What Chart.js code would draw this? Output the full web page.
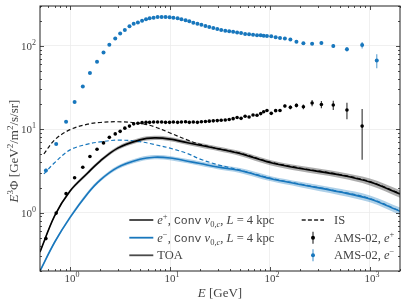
<!DOCTYPE html>
<html>
<head>
<meta charset="utf-8">
<script src="https://cdn.jsdelivr.net/npm/chart.js@4.4.0/dist/chart.umd.min.js"></script>
<style>
  html, body { margin: 0; padding: 0; background: #fff; }
</style>
</head>
<body>
<canvas id="chart" width="407" height="305"></canvas>
<script>
// model curves (energy in GeV, E^3 flux)
const modelE = [0.5, 0.7, 1, 1.5, 2, 3, 5, 7, 10, 15, 20, 30, 50, 100, 200, 500, 1000, 2000];
const posTOA   = [0.338, 0.916, 1.82, 2.99, 4.16, 5.94, 7.46, 7.87, 7.62, 6.88, 6.42, 5.83, 5.11, 3.99, 3.38, 2.83, 2.33, 1.68];
const posTOAlo = [0.325, 0.881, 1.74, 2.85, 3.96, 5.63, 7.04, 7.42, 7.19, 6.49, 6.03, 5.47, 4.78, 3.71, 3.13, 2.60, 2.12, 1.51];
const posTOAhi = [0.352, 0.953, 1.90, 3.14, 4.37, 6.27, 7.91, 8.34, 8.08, 7.29, 6.84, 6.21, 5.47, 4.29, 3.65, 3.08, 2.56, 1.86];
const eleTOA   = [0.2, 0.442, 0.879, 1.70, 2.46, 3.49, 4.36, 4.62, 4.52, 4.14, 3.88, 3.52, 3.20, 2.57, 2.18, 1.77, 1.46, 1.04];
const eleTOAlo = [0.192, 0.425, 0.841, 1.62, 2.34, 3.31, 4.11, 4.36, 4.26, 3.91, 3.64, 3.31, 2.99, 2.39, 2.02, 1.62, 1.33, 0.94];
const eleTOAhi = [0.208, 0.460, 0.919, 1.79, 2.58, 3.68, 4.62, 4.90, 4.79, 4.39, 4.13, 3.75, 3.42, 2.76, 2.35, 1.93, 1.61, 1.15];

// interstellar (dashed)
const isE   = [0.547, 0.7, 1, 1.5, 2, 3, 5, 7, 10, 15, 20, 30, 50, 100, 200, 500, 1000, 2000];
const posIS = [5.07, 7.45, 9.89, 11.5, 12.05, 12.3, 11.8, 10.7, 9.03, 7.41, 6.6, 5.87, 5.18, 4.05, 3.43, 2.87, 2.36, 1.70];
const eleIS = [2.92, 3.97, 5.66, 6.64, 7.05, 7.41, 7.1, 6.55, 5.93, 5.11, 4.39, 3.76, 3.24, 2.6, 2.2, 1.79, 1.48, 1.05];

// AMS-02 data
const amsE = [0.573, 0.726, 0.912, 1.11, 1.34, 1.58, 1.86, 2.16, 2.47, 2.83,
  3.17, 3.53, 3.93, 4.33, 4.77, 5.25, 5.75, 6.25, 6.85, 7.51,
  8.24, 9.02, 9.89, 10.8, 11.9, 13.0, 14.3, 15.6, 17.1, 18.8,
  20.6, 22.6, 24.7, 27.1, 29.7, 32.5, 35.7, 39.1, 42.8, 46.9,
  51.4, 56.4, 61.8, 67.7, 74.2, 80.8, 86.5, 93.3, 103, 114,
  126, 141, 160, 184, 216, 264, 327, 430, 589, 836, 1171];
const amsPos = [0.489, 0.989, 1.69, 2.62, 3.51, 4.71, 5.75, 6.86, 8.0, 8.79,
  9.44, 10.3, 10.9, 11.6, 11.8, 12.0, 12.1, 12.1, 12.2, 12.2,
  12.2, 12.1, 12.1, 12.2, 12.1, 12.2, 12.3, 12.1, 12.2, 12.1,
  12.3, 12.4, 12.5, 12.6, 12.7, 12.8, 12.9, 13.1, 13.4, 13.8,
  13.5, 14.3, 14.0, 14.8, 14.7, 15.4, 16.2, 16.8, 15.5, 16.7,
  16.8, 19.0, 18.3, 19.3, 18.6, 20.6, 19.8, 19.5, 17.0, 10.9];
const amsPosErr = [0, 0, 0, 0, 0, 0, 0, 0, 0, 0,
  0, 0, 0, 0, 0, 0, 0, 0, 0, 0,
  0, 0, 0, 0, 0, 0, 0, 0, 0, 0,
  0, 0, 0, 0, 0, 0, 0, 0, 0, 0,
  0, 0, 0, 0, 0.3, 0.3, 0.4, 0.4, 0.4, 0.5,
  0.6, 0.8, 0.9, 1.0, 1.2, 1.8, 2.0, 2.5, 3.8, 6.6];
const amsEle = [3.2, 6.67, 12.3, 21.2, 32.6, 47.1, 64.2, 83, 103, 122,
  140, 155, 171, 184, 190, 200, 208, 214, 217, 221,
  221, 221, 220, 217, 214, 208, 202, 197, 189, 184,
  179, 173, 168, 164, 159, 155, 152, 149, 147, 144,
  142, 139, 138, 136, 134, 134, 132, 131, 130, 127,
  124, 122, 119, 112, 107, 106, 108, 99.7, 91.1, 102, 66.5];
const amsEleErr = [0.15, 0, 0, 0, 0, 0, 0, 0, 0, 0,
  0, 0, 0, 0, 0, 0, 0, 0, 0, 0,
  0, 0, 0, 0, 0, 0, 0, 0, 0, 0,
  0, 0, 0, 0, 0, 0, 0, 0, 0, 0,
  0, 0, 0, 0, 0, 0, 0, 0, 0, 0,
  3, 3, 3.5, 3.5, 3.5, 4, 4.5, 5, 5.5, 9.3, 12.6];

const xMajor = [1, 10, 100, 1000];
const yMajor = [1, 10, 100];

const BLUE = '#1877bd';
const SERIF = '"Liberation Serif", "DejaVu Serif", serif';
const MONO = '"Liberation Mono", "DejaVu Sans Mono", monospace';
const fn = (s) => `${s}px ${SERIF}`;
const it = (s) => `italic ${s}px ${SERIF}`;
const mono = (s) => `${s}px ${MONO}`;

const pts = (xs, ys) => ys.map((v, i) => ({ x: xs[i], y: v }));

function rich(ctx, x, y, parts, align) {
    let w = 0;
    parts.forEach(p => { ctx.font = p[1]; w += ctx.measureText(p[0]).width; });
    let cx = align === 'center' ? x - w / 2 : align === 'right' ? x - w : x;
    parts.forEach(p => {
        ctx.font = p[1];
        ctx.fillText(p[0], cx, y + (p[2] || 0));
        cx += ctx.measureText(p[0]).width;
    });
}

// error bars drawn under the points
const errorBars = {
    id: 'errorBars',
    beforeDatasetDraw(chart, args) {
        const ds = chart.data.datasets[args.index];
        if (!ds.errors) return;
        const { ctx, scales: { x, y } } = chart;
        ctx.save();
        ctx.strokeStyle = ds.errColor;
        ctx.lineWidth = 1.2;
        ds.data.forEach((p, i) => {
            const e = ds.errors[i];
            if (!e) return;
            const px = x.getPixelForValue(p.x);
            ctx.beginPath();
            ctx.moveTo(px, y.getPixelForValue(p.y + e));
            ctx.lineTo(px, y.getPixelForValue(Math.max(p.y - e, 0.21)));
            ctx.stroke();
        });
        ctx.restore();
    }
};

// frame, inward ticks, tick labels, titles, legend
const decor = {
    id: 'decor',
    afterDraw(chart) {
        const { ctx, chartArea: a, scales: { x, y } } = chart;
        ctx.save();
        ctx.strokeStyle = '#222';
        ctx.lineWidth = 1;
        ctx.strokeRect(a.left, a.top, a.right - a.left, a.bottom - a.top);

        ctx.lineWidth = 0.8;
        ctx.beginPath();
        for (let k = -1; k <= 3; k++) {
            for (let m = 1; m <= 9; m++) {
                const v = m * Math.pow(10, k);
                if (v < 0.5 || v > 2000) continue;
                const len = m === 1 ? 4 : 2;
                const px = Math.round(x.getPixelForValue(v)) + 0.5;
                ctx.moveTo(px, a.bottom); ctx.lineTo(px, a.bottom - len);
                ctx.moveTo(px, a.top); ctx.lineTo(px, a.top + len);
            }
        }
        for (let k = -1; k <= 2; k++) {
            for (let m = 1; m <= 9; m++) {
                const v = m * Math.pow(10, k);
                if (v < 0.2 || v > 300) continue;
                const len = m === 1 ? 4 : 2;
                const py = Math.round(y.getPixelForValue(v)) + 0.5;
                ctx.moveTo(a.left, py); ctx.lineTo(a.left + len, py);
                ctx.moveTo(a.right, py); ctx.lineTo(a.right - len, py);
            }
        }
        ctx.stroke();

        ctx.fillStyle = '#444';
        ctx.textBaseline = 'alphabetic';
        ctx.textAlign = 'left';
        xMajor.forEach(v => {
            const px = x.getPixelForValue(v);
            rich(ctx, px + 2, 282, [['10', fn(11)], [String(Math.round(Math.log10(v))), fn(8), -5]], 'center');
        });
        yMajor.forEach(v => {
            const py = y.getPixelForValue(v);
            rich(ctx, 36, py + 4, [['10', fn(11)], [String(Math.round(Math.log10(v))), fn(8), -5]], 'right');
        });

        // axis titles
        rich(ctx, 220, 297, [['E', it(13)], [' [GeV]', fn(13)]], 'center');
        ctx.save();
        ctx.translate(13, 151);
        ctx.rotate(-Math.PI / 2);
        rich(ctx, 0, 4.5, [['E', it(13)], ['3', fn(9), -5], ['Φ', fn(13)], [' [GeV', fn(13)], ['2', fn(9), -5],
            ['/m', fn(13)], ['2', fn(9), -5], ['/s/sr]', fn(13)]], 'center');
        ctx.restore();

        // legend
        const rows = [220, 237.7, 255.3];
        const line = (x0, x1, yy, col, w, dash) => {
            ctx.save();
            ctx.strokeStyle = col; ctx.lineWidth = w; ctx.setLineDash(dash || []);
            ctx.beginPath(); ctx.moveTo(x0, yy); ctx.lineTo(x1, yy); ctx.stroke();
            ctx.restore();
        };
        line(129.3, 153.3, rows[0], '#3a3a3a', 1.8);
        line(129.3, 153.3, rows[1], BLUE, 1.8);
        line(129.3, 153.3, rows[2], '#4a4a4a', 1.8);
        line(301.7, 324, rows[0], '#222', 1.3, [4, 2.2]);
        [[rows[1], '#000', 'rgba(0,0,0,0.8)'], [rows[2], BLUE, 'rgba(24,119,189,0.7)']].forEach(([yy, c, ec]) => {
            ctx.save();
            ctx.strokeStyle = ec; ctx.lineWidth = 1.2;
            ctx.beginPath(); ctx.moveTo(313, yy - 6); ctx.lineTo(313, yy + 6); ctx.stroke();
            ctx.fillStyle = c;
            ctx.beginPath(); ctx.arc(313, yy, 2, 0, Math.PI * 2); ctx.fill();
            ctx.restore();
        });
        ctx.fillStyle = '#444';
        const lab = (sign) => [['e', it(12.5)], [sign, fn(8.5), -5], [', ', fn(12.5)], ['Conv', mono(11.5)], [' ', fn(12.5)],
            ['v', it(12.5)], ['0,', fn(8.5), 3], ['c', it(8.5), 3], [', ', fn(12.5)], ['L', it(12.5)], [' = 4 kpc', fn(12.5)]];
        rich(ctx, 157.3, rows[0] + 4, lab('+'), 'left');
        rich(ctx, 157.3, rows[1] + 4, lab('−'), 'left');
        rich(ctx, 157.3, rows[2] + 4, [['TOA', fn(12.5)]], 'left');
        rich(ctx, 334, rows[0] + 4, [['IS', fn(12.5)]], 'left');
        rich(ctx, 334, rows[1] + 4, [['AMS-02, ', fn(12.5)], ['e', it(12.5)], ['+', fn(8.5), -5]], 'left');
        rich(ctx, 334, rows[2] + 4, [['AMS-02, ', fn(12.5)], ['e', it(12.5)], ['−', fn(8.5), -5]], 'left');
        ctx.restore();
    }
};

const curve = (data, color, width, order, extra) => Object.assign({
    data, borderColor: color, borderWidth: width, pointRadius: 0, fill: false,
    tension: 0.35, order
}, extra || {});

new Chart(document.getElementById('chart'), {
    type: 'line',
    data: {
        datasets: [
            curve(pts(modelE, posTOAlo), 'transparent', 0, 20),
            curve(pts(modelE, posTOAhi), 'transparent', 0, 20, { fill: '-1', backgroundColor: 'rgba(0,0,0,0.32)' }),
            curve(pts(modelE, eleTOAlo), 'transparent', 0, 20),
            curve(pts(modelE, eleTOAhi), 'transparent', 0, 20, { fill: '-1', backgroundColor: 'rgba(24,119,189,0.35)' }),
            curve(pts(isE, posIS), '#111', 1.2, 12, { borderDash: [4, 2.5] }),
            curve(pts(isE, eleIS), BLUE, 1.2, 12, { borderDash: [4, 2.5] }),
            curve(pts(modelE, posTOA), '#000', 1.6, 10),
            curve(pts(modelE, eleTOA), BLUE, 1.6, 10),
            {
                data: pts(amsE, amsPos), showLine: false, pointRadius: 1.8, pointBorderWidth: 0,
                pointBackgroundColor: '#000', errors: amsPosErr, errColor: 'rgba(0,0,0,0.75)', order: 1
            },
            {
                data: pts(amsE, amsEle), showLine: false, pointRadius: 2, pointBorderWidth: 0,
                pointBackgroundColor: BLUE, errors: amsEleErr, errColor: 'rgba(24,119,189,0.65)', order: 1
            }
        ]
    },
    options: {
        responsive: false,
        animation: false,
        devicePixelRatio: 1,
        layout: { padding: { top: 6, right: 7, left: 0, bottom: 0 } },
        plugins: { legend: { display: false }, tooltip: { enabled: false } },
        scales: {
            x: {
                type: 'logarithmic', min: 0.5, max: 2000,
                afterBuildTicks: s => { s.ticks = xMajor.map(v => ({ value: v })); },
                afterFit: s => { s.height = 34; },
                ticks: { display: false },
                grid: { color: '#ececec', lineWidth: 0.8, drawTicks: false },
                border: { display: false }
            },
            y: {
                type: 'logarithmic', min: 0.2, max: 300,
                afterBuildTicks: s => { s.ticks = yMajor.map(v => ({ value: v })); },
                afterFit: s => { s.width = 40; },
                ticks: { display: false },
                grid: { color: '#ececec', lineWidth: 0.8, drawTicks: false },
                border: { display: false }
            }
        }
    },
    plugins: [errorBars, decor]
});
</script>
</body>
</html>
